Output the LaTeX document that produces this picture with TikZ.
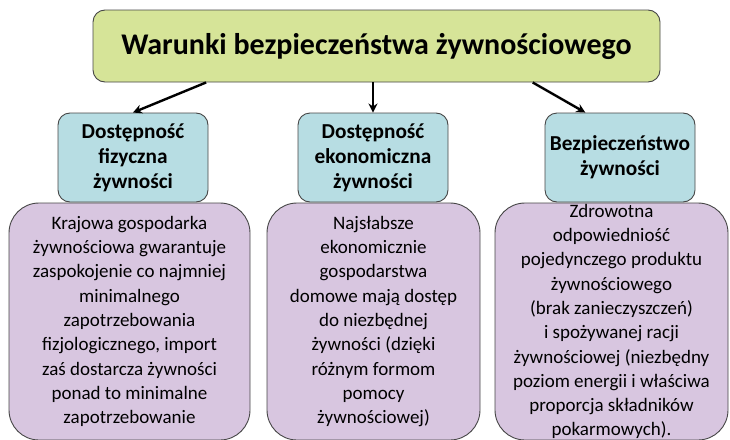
\documentclass[tikz,border=0pt]{standalone}
\usepackage{fontspec}
\setmainfont{Carlito}
\usetikzlibrary{arrows.meta,calc}
\definecolor{titlefill}{RGB}{214,228,152}
\definecolor{tealfill}{RGB}{183,221,227}
\definecolor{purplefill}{RGB}{216,198,224}
\definecolor{bordergray}{RGB}{70,70,70}
\begin{document}
\begin{tikzpicture}[x=1pt,y=-1pt,
  box/.style={draw=bordergray, line width=0.9pt, align=center, inner sep=0pt},
  titlebox/.style={box, fill=titlefill, rounded corners=12pt, minimum width=567pt, minimum height=72pt, font=\fontsize{30}{36}\selectfont\bfseries},
  headbox/.style={box, fill=tealfill, rounded corners=12pt, minimum width=150pt, minimum height=89pt, font=\fontsize{21.3}{25}\selectfont\bfseries},
  bodybox/.style={box, fill=purplefill, rounded corners=30pt, minimum height=237pt, font=\fontsize{19}{24.3}\selectfont},
  arr/.style={-{Stealth[length=9pt,width=9pt]}, line width=2.4pt}]
\useasboundingbox (0,0) rectangle (730,439);
% body boxes
\node[bodybox, minimum width=241pt] (b1) at (129.5,321.5) {Krajowa gospodarka\\żywnościowa gwarantuje\\zaspokojenie co najmniej\\minimalnego\\zapotrzebowania\\fizjologicznego, import\\zaś dostarcza żywności\\ponad to minimalne\\zapotrzebowanie};
\node[bodybox, minimum width=213pt] (b2) at (373.5,321.5) {Najsłabsze\\ekonomicznie\\gospodarstwa\\domowe mają dostęp\\do niezbędnej\\żywności (dzięki\\różnym formom\\pomocy\\żywnościowej)};
\node[bodybox, minimum width=233pt] (b3) at (611.5,321.5) {Zdrowotna\\odpowiedniość\\pojedynczego produktu\\żywnościowego\\(brak zanieczyszczeń)\\i spożywanej racji\\żywnościowej (niezbędny\\poziom energii i właściwa\\proporcja składników\\pokarmowych).};
% head boxes
\node[headbox] (t1) at (133,157.5) {Dostępność\\fizyczna\\żywności};
\node[headbox] (t2) at (373,157.5) {Dostępność\\ekonomiczna\\żywności};
\node[headbox] (t3) at (620,157.5) {Bezpieczeństwo\\żywności};
% title
\node[titlebox] (title) at (376.5,46) {Warunki bezpieczeństwa żywnościowego};
% arrows
\draw[arr] ($(title.south west)!0.2!(title.south east)$) -- (t1.north);
\draw[arr] (t2.north |- title.south) -- (t2.north);
\draw[arr] ($(title.south west)!0.775!(title.south east)$) -- ($(t3.north west)!0.27!(t3.north east)$);
\end{tikzpicture}
\end{document}
